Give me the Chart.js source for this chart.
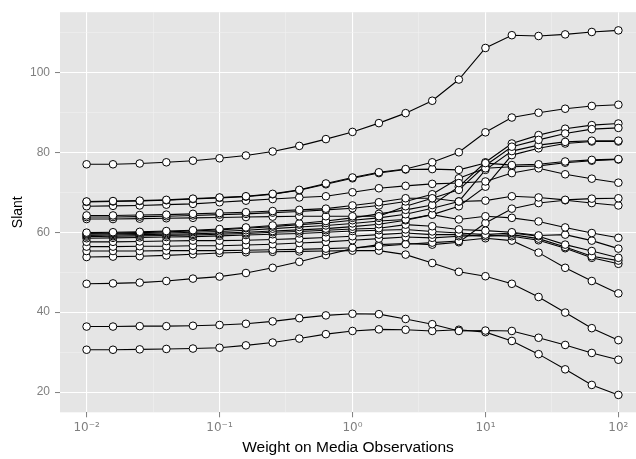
<!DOCTYPE html>
<html>
<head>
<meta charset="utf-8">
<script src="https://cdn.jsdelivr.net/npm/chart.js@4.4.1/dist/chart.umd.min.js"></script>
<style>
  html, body { margin: 0; padding: 0; background: #fff; overflow: hidden; }
  canvas { display: block; }
</style>
</head>
<body>
<canvas id="chart" width="636" height="459"></canvas>
<script>
// Weight values on the x axis (5 per decade, 10^-2 .. 10^2)
const weight = [0.01, 0.0158, 0.0251, 0.0398, 0.0631, 0.1, 0.158, 0.251, 0.398, 0.631,
                1, 1.58, 2.51, 3.98, 6.31, 10, 15.8, 25.1, 39.8, 63.1, 100];

// Slant, one array per line
const slant01 = [77.0,77.0,77.2,77.5,77.9,78.5,79.2,80.2,81.6,83.3,85.1,87.3,89.8,92.9,98.2,106.1,109.3,109.1,109.5,110.1,110.5];
const slant02 = [67.7,67.8,67.9,68.1,68.4,68.7,69.0,69.6,70.6,72.2,73.7,75.0,75.8,77.5,80.0,85.0,88.7,89.9,90.9,91.6,91.9];
const slant03 = [67.6,67.7,67.8,68.0,68.3,68.6,68.9,69.5,70.5,72.0,73.5,74.8,75.7,75.8,75.6,77.3,76.8,77.0,77.7,78.1,78.3];
const slant04 = [66.5,66.6,66.7,66.9,67.1,67.5,67.9,68.3,68.7,69.0,70.0,71.0,71.6,72.1,72.3,72.7,74.8,76.0,74.5,73.4,72.4];
const slant05 = [64.2,64.2,64.3,64.4,64.6,64.8,65.0,65.3,65.6,65.9,66.7,67.5,68.5,68.5,67.7,67.9,69.0,68.7,68.1,68.4,68.5];
const slant06 = [63.8,63.8,63.9,64.0,64.2,64.4,64.6,64.9,65.2,65.6,66.0,66.7,67.7,69.5,73.5,76.0,76.4,76.6,77.4,77.9,78.2];
const slant07 = [63.3,63.3,63.4,63.5,63.6,63.7,63.8,63.9,64.0,64.0,64.0,64.0,66.5,68.5,70.6,76.7,81.4,83.1,84.7,85.8,86.1];
const slant08 = [59.9,60.0,60.1,60.3,60.5,60.8,61.2,61.7,62.2,62.8,63.6,64.6,65.6,66.8,71.4,77.5,82.2,84.3,85.9,86.8,87.2];
const slant09 = [59.7,59.8,59.9,60.1,60.3,60.6,61.0,61.4,61.9,62.3,63.0,63.6,64.5,66.0,67.7,75.6,80.3,81.8,82.6,82.9,82.9];
const slant10 = [59.5,59.6,59.7,59.8,60.0,60.2,60.5,60.9,61.3,61.7,62.2,62.8,63.2,64.4,66.5,71.4,79.3,81.0,82.2,82.7,82.7];
const slant11 = [59.2,59.3,59.4,59.5,59.6,59.8,60.0,60.3,60.6,60.9,61.4,62.0,63.0,64.4,63.2,64.0,63.6,62.7,61.2,59.8,58.6];
const slant12 = [58.9,59.0,59.1,59.2,59.3,59.5,59.7,60.0,60.2,60.5,60.8,61.0,61.9,61.5,60.7,60.4,60.0,59.2,59.4,57.9,55.9];
const slant13 = [58.5,58.6,58.7,58.8,58.9,59.1,59.3,59.5,59.7,60.0,60.3,60.5,60.7,60.2,59.8,59.4,59.8,59.0,56.9,55.3,53.6];
const slant14 = [57.6,57.6,57.7,57.8,57.9,57.9,58.0,58.2,58.4,58.7,59.0,59.4,59.8,59.4,59.4,59.0,59.4,58.4,56.3,54.0,52.9];
const slant15 = [56.4,56.4,56.5,56.5,56.6,56.6,56.8,57.0,57.3,57.6,58.0,58.4,58.8,58.6,59.0,59.2,59.0,58.0,56.0,53.6,52.1];
const slant16 = [55.3,55.3,55.3,55.4,55.4,55.4,55.5,55.6,55.7,55.9,56.1,56.5,57.0,57.4,57.8,58.5,57.9,54.9,51.1,47.8,44.7];
const slant17 = [53.8,53.9,54.0,54.2,54.5,54.8,55.0,55.1,55.2,55.3,55.4,55.4,54.4,52.3,50.1,49.0,47.1,43.8,39.9,36.0,33.0];
const slant18 = [47.1,47.2,47.4,47.8,48.4,48.9,49.8,51.1,52.6,54.3,55.9,56.9,57.2,56.9,57.5,62.3,65.9,67.3,68.0,67.3,66.7];
const slant19 = [36.4,36.4,36.5,36.5,36.6,36.8,37.1,37.7,38.5,39.2,39.6,39.5,38.3,37.0,35.3,35.4,35.3,33.6,31.8,29.8,28.1];
const slant20 = [30.6,30.6,30.7,30.8,30.9,31.1,31.7,32.4,33.4,34.5,35.3,35.7,35.6,35.3,35.6,35.0,32.8,29.5,25.7,21.8,19.3];

const allSlants = [slant01, slant02, slant03, slant04, slant05, slant06, slant07, slant08, slant09, slant10,
                   slant11, slant12, slant13, slant14, slant15, slant16, slant17, slant18, slant19, slant20];

// Axis ticks
const xMajorTicks  = [0.01, 0.1, 1, 10, 100];
const xTickLabels  = ['10⁻²', '10⁻¹', '10⁰', '10¹', '10²'];
const xMinorTicks  = [0.0316, 0.316, 3.16, 31.6];
const yMajorTicks  = [20, 40, 60, 80, 100];
const yMinorTicks  = [30, 50, 70, 90, 110];

const FONT = '"Liberation Sans", Arial, Helvetica, sans-serif';

// ggplot-like grey panel behind the grid
const panelBg = {
    id: 'panelBg',
    beforeDraw(chart) {
        const { ctx, chartArea: a } = chart;
        ctx.save();
        ctx.fillStyle = '#E5E5E5';
        ctx.fillRect(a.left, a.top, a.right - a.left, a.bottom - a.top);
        ctx.restore();
    }
};

const toPoints = ys => ys.map((y, i) => ({ x: weight[i], y: y }));

// lines first (drawn underneath), then the points on top of every line
const datasets = [];
allSlants.forEach(ys => {
    datasets.push({
        data: toPoints(ys),
        borderColor: '#000',
        borderWidth: 1.1,
        pointRadius: 0,
        tension: 0,
        order: 1
    });
});
allSlants.forEach(ys => {
    datasets.push({
        data: toPoints(ys),
        showLine: false,
        pointRadius: 3.8,
        pointBorderWidth: 1,
        pointBorderColor: '#000',
        pointBackgroundColor: '#fff',
        order: 0
    });
});

function gridStyle(majors) {
    return {
        color: c => majors.includes(c.tick.value) ? '#FFFFFF' : '#F2F2F2',
        lineWidth: c => majors.includes(c.tick.value) ? 1.1 : 0.55,
        drawTicks: true,
        tickLength: 5,
        tickWidth: 1,
        tickColor: c => majors.includes(c.tick.value) ? '#7F7F7F' : 'rgba(0,0,0,0)'
    };
}

new Chart(document.getElementById('chart'), {
    type: 'line',
    data: { datasets: datasets },
    options: {
        responsive: false,
        animation: false,
        layout: { autoPadding: false, padding: { top: 10, left: 0, right: 0, bottom: 0 } },
        plugins: { legend: { display: false }, tooltip: { enabled: false } },
        scales: {
            x: {
                type: 'logarithmic',
                min: 0.00631,
                max: 135.7,
                border: { display: false },
                grid: gridStyle(xMajorTicks),
                afterBuildTicks: s => {
                    s.ticks = xMajorTicks.concat(xMinorTicks).sort((a, b) => a - b).map(v => ({ value: v }));
                },
                afterFit: s => { s.height = 46.7; },
                ticks: {
                    autoSkip: false,
                    maxRotation: 0,
                    padding: 3,
                    color: '#7F7F7F',
                    font: { family: '"DejaVu Sans", ' + FONT, size: 12 },
                    callback: v => {
                        const i = xMajorTicks.indexOf(v);
                        return i >= 0 ? xTickLabels[i] : '';
                    }
                },
                title: {
                    display: true,
                    text: 'Weight on Media Observations',
                    color: '#000',
                    font: { family: FONT, size: 15.5, lineHeight: 1.2 },
                    padding: { top: 0, bottom: 2 }
                }
            },
            y: {
                type: 'linear',
                min: 14.95,
                max: 115.05,
                border: { display: false },
                grid: gridStyle(yMajorTicks),
                afterBuildTicks: s => {
                    s.ticks = yMajorTicks.concat(yMinorTicks).sort((a, b) => a - b).map(v => ({ value: v }));
                },
                afterFit: s => { s.width = 60; },
                ticks: {
                    autoSkip: false,
                    padding: 5,
                    color: '#7F7F7F',
                    font: { family: FONT, size: 12 },
                    callback: v => yMajorTicks.includes(v) ? String(v) : ''
                },
                title: {
                    display: true,
                    text: 'Slant',
                    color: '#000',
                    font: { family: FONT, size: 14, lineHeight: 1.2 },
                    padding: { top: 10, bottom: 0 }
                }
            }
        }
    },
    plugins: [panelBg]
});
</script>
</body>
</html>
